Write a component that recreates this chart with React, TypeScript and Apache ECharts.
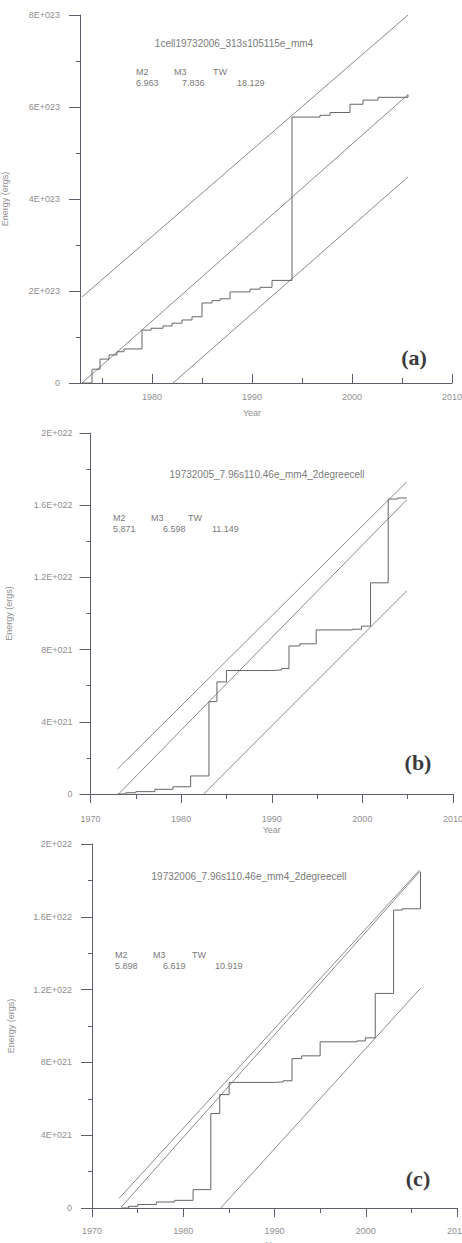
import React, { useEffect, useRef } from "react";
import * as echarts from "echarts";

// ---------- data ----------
// Panel (a): cumulative energy staircase
const yearsA = [1973, 1974, 1974.8, 1975.7, 1976.5, 1977.2, 1979, 1979.9, 1981.1, 1982, 1983, 1984, 1985, 1986, 1986.8, 1987.8, 1989.8, 1990.8, 1992, 1994, 1996.8, 1997.8, 1999.8, 2001.1, 2002.6, 2005.6];
const energyA = [0, 0.30e23, 0.52e23, 0.61e23, 0.68e23, 0.74e23, 1.15e23, 1.19e23, 1.24e23, 1.30e23, 1.37e23, 1.44e23, 1.74e23, 1.79e23, 1.83e23, 1.98e23, 2.04e23, 2.08e23, 2.23e23, 5.78e23, 5.82e23, 5.88e23, 6.06e23, 6.15e23, 6.21e23, 6.27e23];
const upperA = [[1973, 1.87e23], [2005.6, 8.0e23]];
const meanA = [[1973, 0], [2005.6, 6.27e23]];
const lowerA = [[1982.1, 0], [2005.6, 4.48e23]];

// Panel (b)
const yearsB = [1973, 1973.9, 1975, 1977.1, 1979.1, 1981.05, 1983.07, 1983.95, 1985, 1990, 1991.07, 1991.9, 1993.1, 1994.9, 1998.9, 1999.9, 2000.9, 2002.85, 2003.9, 2004.9];
const energyB = [0, 0.07e21, 0.13e21, 0.26e21, 0.40e21, 1.0e21, 5.12e21, 6.21e21, 6.84e21, 6.87e21, 6.95e21, 8.2e21, 8.32e21, 9.09e21, 9.13e21, 9.3e21, 11.7e21, 16.34e21, 16.4e21, 16.4e21];
const upperB = [[1973, 1.39e21], [2004.9, 17.3e21]];
const meanB = [[1973.1, 0], [2004.9, 16.3e21]];
const lowerB = [[1982.5, 0], [2004.9, 11.26e21]];

// Panel (c)
const yearsC = [1973.2, 1974, 1975, 1977.05, 1979.07, 1981.08, 1983.02, 1984, 1985.03, 1990, 1990.97, 1991.92, 1992.98, 1995, 1999.03, 1999.95, 2001.04, 2003.05, 2004, 2006];
const energyC = [0, 0.09e21, 0.19e21, 0.33e21, 0.42e21, 1.01e21, 5.19e21, 6.23e21, 6.9e21, 6.93e21, 6.99e21, 8.21e21, 8.36e21, 9.13e21, 9.18e21, 9.35e21, 11.79e21, 16.37e21, 16.44e21, 18.48e21];
const upperC = [[1972.95, 0.52e21], [2005.9, 18.57e21]];
const meanC = [[1973.2, 0.05e21], [2005.9, 18.48e21]];
const lowerC = [[1984.1, 0], [2006, 12.07e21]];

// Axes / ticks
const majorYearsA = [1980, 1990, 2000, 2010];
const minorYearsA = [1975, 1985, 1995, 2005];
const yMax = [8e23, 2e22, 2e22];
const yInterval = [2e23, 4e21, 4e21];
const xMin = [1972.8, 1970, 1970];
const xMax = [2010, 2010, 2010];
const xInterval = 10;

// Texts
const titles = ["1cell19732006_313s105115e_mm4", "19732005_7.96s110.46e_mm4_2degreecell", "19732006_7.96s110.46e_mm4_2degreecell"];
const statNames = ["M2", "M3", "TW"];
const statsA = ["6.963", "7.836", "18.129"];
const statsB = ["5.871", "6.598", "11.149"];
const statsC = ["5.898", "6.619", "10.919"];
const panelLabels = ["(a)", "(b)", "(c)"];
const xName = "Year";
const yName = "Energy (ergs)";

// ---------- layout ----------
const grids = [
  { left: 80, top: 15, width: 372, height: 368 },
  { left: 90.5, top: 433, width: 362.5, height: 361 },
  { left: 92, top: 844, width: 365, height: 364 },
];
const xLabelMargin = [9, 20, 18];
const xNameGap = [25, 31, 32];
const yLabelMargin = [20, 18, 20];
const yNameGap = [71, 77, 77];
const titlePos = [[234, 43], [267, 474], [249, 876]];
const statNameX = [[136, 174, 213], [113, 151, 188], [115, 153, 192]];
const statValX = [[136, 182, 237], [113, 163, 212], [115, 163, 215]];
const statNameY = [72, 518, 955];
const statValY = [83, 529, 966];
const panelLabelPos = [[414, 357], [418, 762], [418, 1178]];

const axisColor = "#5e5e6a";
const lineColor = "#8a8a8a";
const stairColor = "#666666";
const labelColor = "#8f8f8f";
const textColor = "#7a7a7a";
const FONT = "Liberation Sans";

function fmtSci(v: number): string {
  if (v === 0) return "0";
  const [m, e] = v.toExponential().split("e");
  const mant = parseFloat(parseFloat(m).toFixed(2));
  const exp = parseInt(e, 10);
  return `${mant}E${exp >= 0 ? "+" : "-"}${String(Math.abs(exp)).padStart(3, "0")}`;
}

const stairs = [
  yearsA.map((y, i) => [y, energyA[i]]),
  yearsB.map((y, i) => [y, energyB[i]]),
  yearsC.map((y, i) => [y, energyC[i]]),
];
const uppers = [upperA, upperB, upperC];
const means = [meanA, meanB, meanC];
const lowers = [lowerA, lowerB, lowerC];
const stats = [statsA, statsB, statsC];

export default function App() {
  const ref = useRef<HTMLDivElement>(null);
  useEffect(() => {
    document.body.style.margin = "0";
    if (!ref.current) return;
    const chart = echarts.init(ref.current, undefined, { renderer: "svg" });

    const xAxis: any[] = [];
    const yAxis: any[] = [];
    const series: any[] = [];
    const graphic: any[] = [];
    const tickLine = { color: axisColor, width: 1 };
    const labelStyle = { fontSize: 9, color: labelColor, fontFamily: FONT };

    for (let p = 0; p < 3; p++) {
      const nameStyle = { ...labelStyle, padding: p === 0 ? [0, 28, 0, 0] : 0 };
      if (p === 0) {
        // panel (a) starts at 1973, so ticks are placed at explicit years
        xAxis.push({
          gridIndex: p,
          type: "value",
          min: xMin[p],
          max: xMax[p],
          position: "bottom",
          axisLine: { show: true, onZero: false, lineStyle: { color: axisColor, width: 1 } },
          axisTick: { show: true, inside: true, length: 9, customValues: majorYearsA, lineStyle: tickLine },
          axisLabel: { customValues: majorYearsA, margin: xLabelMargin[p], ...labelStyle, formatter: (v: number) => String(Math.round(v)) },
          splitLine: { show: false },
          name: xName,
          nameLocation: "middle",
          nameGap: xNameGap[p],
          nameTextStyle: nameStyle,
        });
        xAxis.push({
          gridIndex: p,
          type: "value",
          min: xMin[p],
          max: xMax[p],
          position: "bottom",
          axisLine: { show: false, onZero: false },
          axisTick: { show: true, inside: true, length: 5, customValues: minorYearsA, lineStyle: tickLine },
          axisLabel: { show: false },
          splitLine: { show: false },
        });
      } else {
        xAxis.push({
          gridIndex: p,
          type: "value",
          min: xMin[p],
          max: xMax[p],
          interval: xInterval,
          position: "bottom",
          axisLine: { show: true, onZero: false, lineStyle: { color: axisColor, width: 1 } },
          axisTick: { show: true, length: 9, lineStyle: tickLine },
          minorTick: { show: true, splitNumber: 2, length: 5, lineStyle: tickLine },
          minorSplitLine: { show: false },
          axisLabel: { margin: xLabelMargin[p], ...labelStyle, formatter: (v: number) => String(Math.round(v)) },
          splitLine: { show: false },
          name: xName,
          nameLocation: "middle",
          nameGap: xNameGap[p],
          nameTextStyle: nameStyle,
        });
        // placeholder axis to keep index layout uniform
        xAxis.push({
          gridIndex: p,
          type: "value",
          min: xMin[p],
          max: xMax[p],
          position: "bottom",
          show: false,
        });
      }
      yAxis.push({
        gridIndex: p,
        type: "value",
        min: 0,
        max: yMax[p],
        interval: yInterval[p],
        axisLine: { show: true, onZero: false, lineStyle: { color: axisColor, width: 1 } },
        axisTick: { show: true, length: 11, lineStyle: tickLine },
        minorTick: { show: true, splitNumber: 2, length: 4, lineStyle: tickLine },
        minorSplitLine: { show: false },
        splitLine: { show: false },
        axisLabel: { formatter: fmtSci, margin: yLabelMargin[p], ...labelStyle },
        name: yName,
        nameLocation: "middle",
        nameRotate: 90,
        nameGap: yNameGap[p],
        nameTextStyle: labelStyle,
      });

      const common = {
        type: "line",
        xAxisIndex: 2 * p,
        yAxisIndex: p,
        showSymbol: false,
        symbol: "none",
        silent: true,
      };
      series.push({ ...common, data: uppers[p], lineStyle: { color: lineColor, width: 1 } });
      series.push({ ...common, data: means[p], lineStyle: { color: lineColor, width: 1 } });
      series.push({ ...common, data: lowers[p], lineStyle: { color: lineColor, width: 1 } });
      series.push({ ...common, data: stairs[p], step: "end", lineStyle: { color: stairColor, width: 1 } });

      graphic.push({
        type: "text",
        x: titlePos[p][0],
        y: titlePos[p][1],
        style: { text: titles[p], fill: textColor, font: `10px "${FONT}"`, textAlign: "center", textVerticalAlign: "middle" },
      });
      for (let k = 0; k < 3; k++) {
        graphic.push({
          type: "text",
          x: statNameX[p][k],
          y: statNameY[p],
          style: { text: statNames[k], fill: textColor, font: `9px "${FONT}"`, textAlign: "left", textVerticalAlign: "middle" },
        });
        graphic.push({
          type: "text",
          x: statValX[p][k],
          y: statValY[p],
          style: { text: stats[p][k], fill: textColor, font: `9px "${FONT}"`, textAlign: "left", textVerticalAlign: "middle" },
        });
      }
      graphic.push({
        type: "text",
        x: panelLabelPos[p][0],
        y: panelLabelPos[p][1],
        style: { text: panelLabels[p], fill: "#3a3a3a", font: `bold 22px "Liberation Serif"`, textAlign: "center", textVerticalAlign: "middle" },
      });
    }

    chart.setOption({
      animation: false,
      backgroundColor: "#ffffff",
      grid: grids.map((g) => ({ ...g, containLabel: false, outerBoundsMode: "none" })),
      xAxis,
      yAxis,
      series,
      graphic,
    });
    return () => chart.dispose();
  }, []);
  return <div ref={ref} style={{ width: 462, height: 1243 }} />;
}
